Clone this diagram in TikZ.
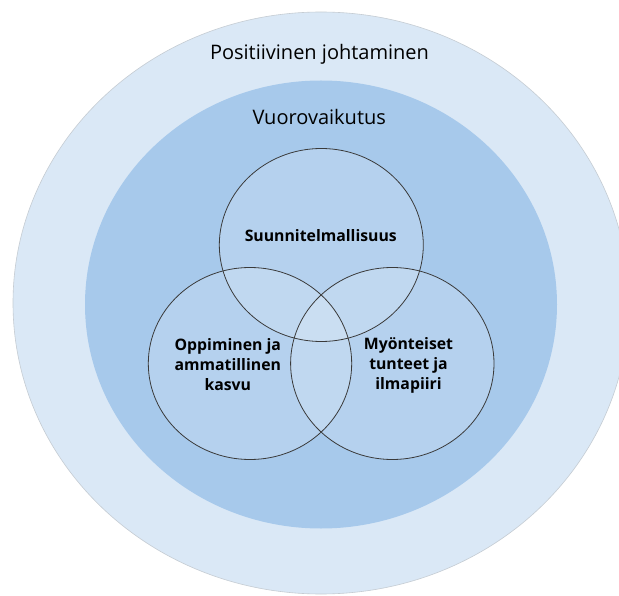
\documentclass[tikz,border=0pt]{standalone}
\usepackage{fontspec}
\setmainfont{Open Sans}
\definecolor{outerblue}{HTML}{DAE8F6}
\definecolor{innerblue}{HTML}{A7C9EB}
\definecolor{edgegray}{HTML}{3A3A3A}
\definecolor{rimgray}{HTML}{C5CCD3}
\begin{document}
\begin{tikzpicture}[x=1pt,y=-1pt,
  title/.style={font=\fontsize{20}{24}\selectfont, text=black, inner sep=0pt},
  venntext/.style={font=\bfseries\fontsize{15.8}{20}\selectfont, text=black, align=center, inner sep=0pt},
  vennfill/.style={fill=white, fill opacity=0.16},
  vennline/.style={draw=edgegray, line width=0.8pt}]
\useasboundingbox (0,0) rectangle (619,596);
\clip (0,0) rectangle (619,596);
\fill[white] (0,0) rectangle (619,596);
% outer ellipse
\draw[fill=outerblue, draw=rimgray, line width=0.6pt] (321,303) ellipse [x radius=308, y radius=291];
% inner ellipse
\fill[innerblue] (321,304.5) ellipse [x radius=236, y radius=224];
% venn fills
\fill[vennfill] (321.3,245) ellipse [x radius=102, y radius=96.5];
\fill[vennfill] (250,363.5) ellipse [x radius=101.7, y radius=96];
\fill[vennfill] (392.3,363.5) ellipse [x radius=101.7, y radius=96];
% venn outlines
\draw[vennline] (321.3,245) ellipse [x radius=102, y radius=96.5];
\draw[vennline] (250,363.5) ellipse [x radius=101.7, y radius=96];
\draw[vennline] (392.3,363.5) ellipse [x radius=101.7, y radius=96];
% texts
\node[title, anchor=base] (pos) at (319.5,60) {Positiivinen johtaminen};
\node[title, anchor=base] (vuo) at (319.2,124.5) {Vuorovaikutus};
\node[venntext, anchor=base] (suu) at (320.8,241.7) {Suunnitelmallisuus};
\node[venntext] (opp) at (227.8,365) {Oppiminen ja\\ammatillinen\\kasvu};
\node[venntext] (myo) at (408.5,365) {Myönteiset\\tunteet ja\\ilmapiiri};
\end{tikzpicture}
\end{document}
